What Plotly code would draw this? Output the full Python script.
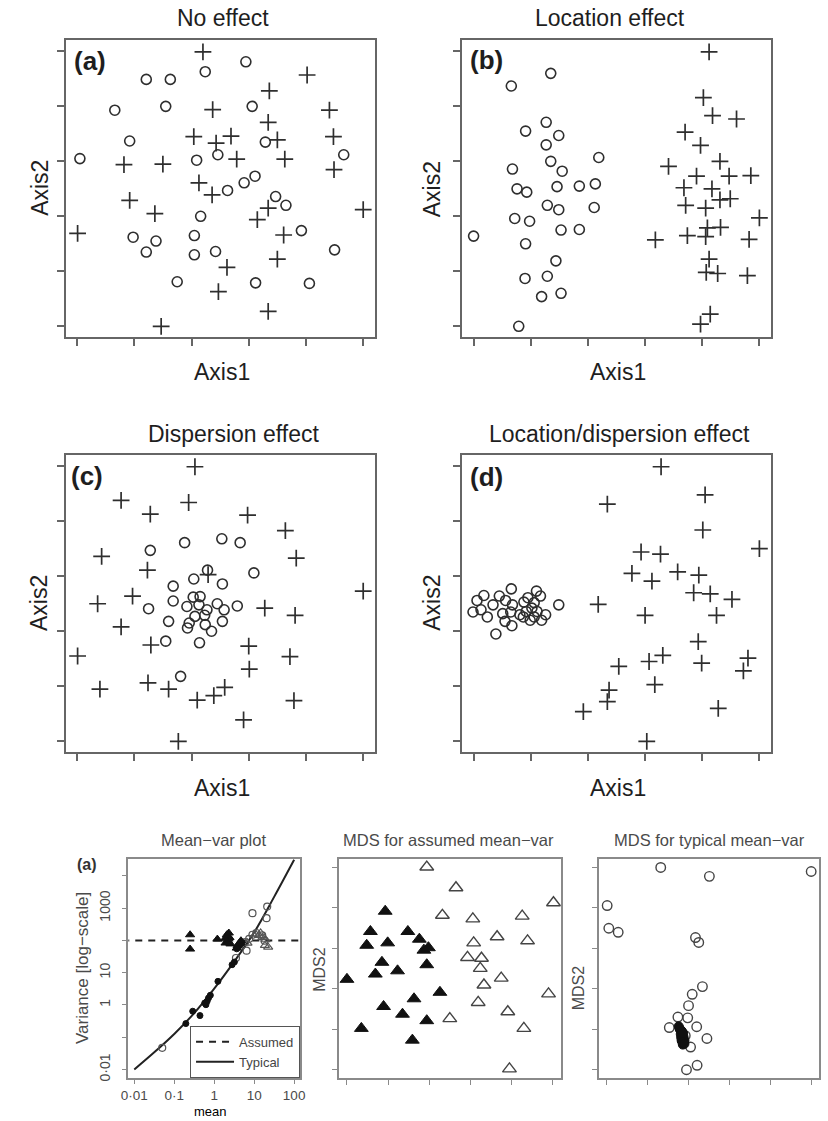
import plotly.graph_objects as go

W, H = 828, 1121

# ---------------- data (axis units; ticks at 0..5) ----------------
# Panel (a) No effect
a_circ_x = [2.95, 2.24, 1.21, 1.63, 0.66, 1.55, 3.06, 0.92, 0.05, 3.29, 2.09, 2.46, 4.66, 2.92, 3.11,
            2.63, 3.47, 3.65, 2.16, 0.98, 1.38, 2.05, 1.21, 2.05, 2.42, 3.92, 4.50, 1.75, 3.12, 4.06]
a_circ_y = [4.81, 4.63, 4.49, 4.49, 3.93, 4.00, 4.00, 3.37, 3.05, 3.35, 3.02, 3.12, 3.12, 2.61, 2.73,
            2.47, 2.36, 2.20, 2.00, 1.62, 1.55, 1.65, 1.35, 1.30, 1.36, 1.74, 1.39, 0.81, 0.79, 0.78]
a_cross_x = [2.20, 4.02, 3.36, 2.37, 4.41, 3.34, 2.04, 2.69, 2.43, 3.50, 4.48, 0.82, 1.50, 2.79, 3.63,
             4.49, 2.13, 2.36, 0.92, 1.36, 3.34, 3.15, 5.00, 0.01, 3.61, 3.50, 2.62, 2.47, 3.34, 1.47]
a_cross_y = [4.99, 4.57, 4.28, 3.94, 3.93, 3.71, 3.45, 3.46, 3.33, 3.39, 3.45, 2.94, 2.95, 3.04, 3.04,
             2.85, 2.61, 2.39, 2.29, 2.05, 2.15, 1.94, 2.12, 1.69, 1.66, 1.22, 1.07, 0.63, 0.27, 0.00]

# Panel (b) Location effect
b_circ_x = [1.35, 0.66, 1.27, 0.91, 1.49, 1.27, 2.19, 0.68, 1.35, 1.55, 0.76, 0.93, 1.46, 1.85, 2.13,
            1.29, 1.49, 2.11, 0.72, 0.98, 1.53, 1.85, 0.00, 0.91, 1.44, 0.90, 1.29, 1.19, 1.53, 0.79]
b_circ_y = [4.60, 4.37, 3.71, 3.55, 3.47, 3.30, 3.07, 2.86, 3.00, 2.82, 2.50, 2.44, 2.54, 2.55, 2.59,
            2.20, 2.12, 2.16, 1.96, 1.91, 1.75, 1.76, 1.64, 1.50, 1.19, 0.87, 0.91, 0.54, 0.60, 0.00]
b_cross_x = [4.12, 4.02, 4.18, 4.60, 3.70, 3.97, 4.31, 3.41, 3.90, 4.47, 4.85, 3.68, 4.17, 4.31, 4.49,
             3.71, 4.06, 5.00, 4.09, 4.32, 3.74, 4.06, 3.18, 4.82, 4.12, 4.07, 4.27, 4.79, 4.14, 3.97]
b_cross_y = [4.99, 4.16, 3.83, 3.77, 3.53, 3.29, 3.00, 2.91, 2.73, 2.73, 2.74, 2.52, 2.50, 2.30, 2.32,
             2.20, 2.15, 1.97, 1.79, 1.80, 1.65, 1.63, 1.57, 1.58, 1.22, 0.98, 0.96, 0.92, 0.22, 0.04]

# Panel (c) Dispersion effect
c_circ_x = [1.28, 1.88, 2.53, 2.85, 3.09, 2.28, 2.04, 1.68, 2.54, 1.68, 2.03, 2.15, 1.25, 1.92, 2.13,
            2.27, 2.45, 2.57, 2.80, 1.60, 1.96, 2.06, 2.23, 1.93, 2.24, 2.35, 2.54, 1.55, 2.14, 1.81]
c_circ_y = [3.47, 3.61, 3.68, 3.61, 3.06, 3.11, 2.95, 2.82, 2.86, 2.55, 2.62, 2.63, 2.41, 2.45, 2.48,
            2.39, 2.50, 2.39, 2.46, 2.18, 2.15, 2.27, 2.29, 2.06, 2.12, 2.00, 2.18, 1.82, 1.79, 1.18]
c_cross_x = [2.06, 0.77, 1.95, 1.28, 2.98, 3.64, 0.43, 3.83, 1.23, 2.29, 0.97, 5.00, 0.36, 3.28, 3.81,
             0.77, 1.29, 3.00, 0.01, 3.72, 3.01, 0.40, 1.24, 1.60, 2.58, 2.10, 2.39, 3.79, 2.91, 1.77]
c_cross_y = [4.99, 4.38, 4.34, 4.13, 4.11, 3.83, 3.36, 3.33, 3.11, 3.03, 2.64, 2.73, 2.50, 2.42, 2.29,
             2.08, 1.75, 1.73, 1.55, 1.54, 1.31, 0.95, 1.06, 0.95, 0.98, 0.75, 0.83, 0.74, 0.39, 0.00]

# Panel (d) Location/dispersion effect
d_circ_x = [-0.01, 0.06, 0.18, 0.24, 0.34, 0.39, 0.45, 0.51, 0.55, 0.56, 0.66, 0.68, 0.65, 0.67, 0.88,
            0.87, 0.92, 0.95, 0.99, 1.02, 1.06, 1.10, 1.11, 1.17, 1.19, 1.26, 1.49, 1.06, 0.81, 0.13]
d_circ_y = [2.35, 2.56, 2.65, 2.26, 2.48, 1.95, 2.64, 2.32, 2.18, 2.56, 2.77, 2.48, 2.35, 2.10, 2.53,
            2.26, 2.36, 2.61, 2.20, 2.42, 2.52, 2.73, 2.36, 2.64, 2.20, 2.30, 2.48, 2.26, 2.30, 2.39]
d_cross_x = [3.28, 2.34, 4.05, 4.01, 5.00, 2.93, 3.27, 2.77, 3.12, 3.57, 3.94, 3.85, 4.14, 4.52, 2.18,
             3.00, 4.25, 3.93, 3.31, 3.07, 3.99, 4.80, 4.72, 2.54, 2.37, 3.17, 2.34, 1.92, 4.28, 3.03]
d_cross_y = [4.99, 4.31, 4.48, 3.84, 3.50, 3.44, 3.40, 3.05, 2.91, 3.08, 3.02, 2.70, 2.68, 2.58, 2.49,
             2.29, 2.29, 1.81, 1.56, 1.45, 1.42, 1.51, 1.28, 1.36, 0.93, 1.03, 0.72, 0.54, 0.60, 0.00]

# Mean-var plot (mean, variance)
mv_ftri_mean = [0.249, 0.249, 1.2, 2.07, 2.41, 1.92, 2.19, 2.55, 2.32, 3.86, 4.25, 4.67, 3.66, 1.85]
mv_ftri_var = [150, 54, 110, 150, 123, 83, 93, 78, 170, 70, 83, 98, 58, 112]
mv_otri_mean = [10.9, 13.2, 16.0, 18.6, 22.4, 19.3, 14.5, 6.8]
mv_otri_var = [157, 143, 123, 70, 62, 105, 170, 83]
mv_fcirc_mean = [0.195, 0.29, 0.44, 0.62, 0.665, 0.72, 0.80, 0.58, 1.24, 2.8, 3.2, 3.66, 4.25, 4.9]
mv_fcirc_var = [0.265, 0.64, 0.47, 1.02, 1.3, 1.64, 2.0, 1.15, 5.4, 17.7, 21.4, 55, 68, 81]
mv_ocirc_mean = [0.05, 9.06, 21.2, 20.4, 6.45, 3.5, 9.06, 11.3, 15.9, 18.2, 5.97, 7.5]
mv_ocirc_var = [0.047, 700, 1120, 490, 48, 28.5, 150, 170, 143, 98, 89, 112]
assumed_mean = [0.005, 200]
assumed_var = [100, 100]
typical_mean = [0.01, 0.0316, 0.1, 0.316, 1, 3.16, 10, 31.6, 100]
typical_var = [0.01, 0.034, 0.126, 0.56, 3.2, 22, 178, 2240, 31600]

# MDS for assumed mean-var
as_fill_x = [0.00, 0.35, 0.57, 0.48, 0.99, 0.85, 0.69, 1.23, 0.93, 1.48, 1.76, 1.87, 1.98, 1.94, 1.63,
             0.89, 1.35, 1.94, 1.59, 2.26]
as_fill_y = [2.23, 1.02, 3.41, 3.07, 3.13, 2.65, 2.36, 2.44, 3.91, 3.41, 3.22, 2.95, 3.01, 2.59, 1.75,
             1.56, 1.37, 1.21, 0.73, 1.91]
as_open_x = [1.94, 2.65, 2.32, 3.06, 4.26, 5.02, 3.65, 4.39, 3.08, 2.93, 3.27, 3.24, 3.75, 3.33, 4.90,
             3.19, 3.91, 2.50, 4.30, 3.95]
as_open_y = [5.00, 4.49, 3.81, 3.72, 3.79, 4.12, 3.28, 3.18, 3.13, 2.77, 2.75, 2.50, 2.26, 2.09, 1.87,
             1.66, 1.43, 1.26, 1.02, 0.02]

# MDS for typical mean-var
ty_open_x = [1.32, 2.51, 5.00, 0.01, 0.05, 0.28, 2.17, 2.25, 2.34, 2.09, 2.00, 1.74, 1.98, 1.53, 2.20,
             2.45, 2.05, 2.21, 1.95, 1.92]
ty_open_y = [4.99, 4.77, 4.89, 4.05, 3.49, 3.39, 3.26, 3.14, 2.05, 1.86, 1.58, 1.30, 1.28, 1.04, 1.06,
             0.77, 0.56, 0.11, 0.00, 0.84]
ty_fill_x = [1.76, 1.78, 1.80, 1.83, 1.85, 1.82, 1.87, 1.84, 1.88, 1.86, 1.90, 1.79, 1.81, 1.85, 1.83,
             1.88, 1.86, 1.90, 1.84, 1.87]
ty_fill_y = [1.07, 1.02, 0.98, 0.92, 0.85, 0.80, 0.75, 0.70, 0.66, 0.62, 0.72, 1.00, 0.88, 0.78, 0.73,
             0.80, 0.68, 0.64, 0.95, 0.90]

# ---------------- helpers ----------------
def fx(px):
    return px / W

def fy(py):
    return 1 - py / H

FONT = "Liberation Sans, Arial, Helvetica, sans-serif"
DARK = "#1e1e1e"
GREY = "#4a4a4a"

fig = go.Figure()

# panel frames in pixels: (left, right, top, bottom)
frames = {
    1: (58.5, 372.5, 40.5, 338.5),
    2: (461.4, 775.0, 40.5, 338.5),
    3: (58.5, 372.5, 456.8, 755.0),
    4: (461.4, 775.0, 456.8, 755.0),
    5: (122.3, 296.7, 862.0, 1081.7),
    6: (336.0, 561.7, 862.0, 1081.7),
    7: (600.0, 824.3, 862.0, 1081.7),
}

def axname(i, k):
    return k if i == 1 else f"{k}{i}"

def add_scatter(i, x, y, symbol, size, color, lw=1.4, fill=None):
    fig.add_trace(go.Scatter(
        x=x, y=y, mode="markers", showlegend=False, hoverinfo="skip",
        xaxis=axname(i, "x"), yaxis=axname(i, "y"), cliponaxis=False,
        marker=dict(symbol=symbol, size=size, color=fill if fill else color,
                    line=dict(color=color, width=lw)),
    ))

MK = "#2e2e2e"
# top panels
for i, (cx, cy, px_, py_) in enumerate([
        (a_circ_x, a_circ_y, a_cross_x, a_cross_y),
        (b_circ_x, b_circ_y, b_cross_x, b_cross_y),
        (c_circ_x, c_circ_y, c_cross_x, c_cross_y),
        (d_circ_x, d_circ_y, d_cross_x, d_cross_y)], start=1):
    add_scatter(i, cx, cy, "circle-open", 10, MK, 1.6)
    add_scatter(i, px_, py_, "cross-thin-open", 12, MK, 1.7)

# mean-var plot
fig.add_trace(go.Scatter(x=assumed_mean, y=assumed_var, mode="lines", name="Assumed",
                         xaxis="x5", yaxis="y5", hoverinfo="skip",
                         line=dict(color="#222222", width=2, dash="7px,6px")))
fig.add_trace(go.Scatter(x=typical_mean, y=typical_var, mode="lines", name="Typical",
                         xaxis="x5", yaxis="y5", hoverinfo="skip", line_shape="spline",
                         line=dict(color="#222222", width=2)))
add_scatter(5, mv_ocirc_mean, mv_ocirc_var, "circle-open", 7, "#555555", 1.2)
add_scatter(5, mv_otri_mean, mv_otri_var, "triangle-up-open", 8, "#555555", 1.2)
add_scatter(5, mv_fcirc_mean, mv_fcirc_var, "circle", 6, "#111111", 1)
add_scatter(5, mv_ftri_mean, mv_ftri_var, "triangle-up", 8, "#111111", 1)

# MDS panels
add_scatter(6, as_fill_x, as_fill_y, "triangle-up", 12, "#111111", 1)
add_scatter(6, as_open_x, as_open_y, "triangle-up-open", 12, "#444444", 1.4)
add_scatter(7, ty_open_x, ty_open_y, "circle-open", 9.5, "#444444", 1.4)
add_scatter(7, ty_fill_x, ty_fill_y, "circle", 9, "#111111", 1)

# ---------------- axes ----------------
layout = {}
for i, (l, r, t, b) in frames.items():
    top = i <= 4
    lc = "#666666" if top else "#8a8a8a"
    lw = 2 if top else 1.5
    xa = dict(domain=[fx(l), fx(r)], anchor=axname(i, "y"), showgrid=False, zeroline=False,
              showline=True, mirror=True, linecolor=lc, linewidth=lw,
              ticks="outside", ticklen=7 if top else 5, tickwidth=1.5 if top else 1.2, tickcolor=lc)
    ya = dict(domain=[fy(b), fy(t)], anchor=axname(i, "x"), showgrid=False, zeroline=False,
              showline=True, mirror=True, linecolor=lc, linewidth=lw,
              ticks="outside", ticklen=7 if top else 5, tickwidth=1.5 if top else 1.2, tickcolor=lc)
    if i == 5:
        xa.update(type="log", range=[-2.148, 2.148],
                  tickvals=[0.01, 0.1, 1, 10, 100],
                  ticktext=["0·01", "0·1", "1", "10", "100"],
                  ticklen=4, ticklabelstandoff=0,
                  tickfont=dict(family=FONT, size=13.5, color=GREY))
        ya.update(type="log", range=[-2.258, 4.526],
                  tickvals=[0.01, 0.1, 1, 10, 100, 1000, 10000],
                  ticktext=["0·01", "", "1", "10", "", "1000", ""],
                  tickangle=-90, ticklabelstandoff=6,
                  tickfont=dict(family=FONT, size=14, color=GREY))
    else:
        xa.update(range=[-0.2, 5.2], tickvals=[0, 1, 2, 3, 4, 5], showticklabels=False)
        ya.update(range=[-0.2, 5.2], tickvals=[0, 1, 2, 3, 4, 5], showticklabels=False)
    layout[axname(i, "xaxis")] = xa
    layout[axname(i, "yaxis")] = ya

# ---------------- text ----------------
ann = []

def text(s, x, y, size, color=DARK, bold=False, angle=0, pad=1):
    ann.append(dict(text=f"<b>{s}</b>" if bold else s, x=fx(x), y=fy(y), xref="paper", yref="paper",
                    xanchor="center", yanchor="middle", showarrow=False, textangle=angle,
                    borderpad=pad, font=dict(family=FONT, size=size, color=color)))

titles = [("No effect", 218.5, 18.3), ("Location effect", 611.8, 18.3),
          ("Dispersion effect", 228.8, 435.7), ("Location/dispersion effect", 621.0, 435.8)]
for s, x, y in titles:
    text(s, x, y, 23)
for s, x, y in [("(a)", 82.8, 60.8), ("(b)", 486.2, 60.3), ("(c)", 80.0, 477.5), ("(d)", 486.0, 478.3)]:
    text(s, x, y, 26, bold=True)
for x, y in [(217.5, 373.0), (620.0, 373.0), (217.5, 791.0), (620.0, 791.0)]:
    text("Axis1", x, y, 23)
for x, y in [(31.7, 188.3), (430.7, 190.0), (31.7, 605.0), (430.7, 605.0)]:
    text("Axis2", x, y, 23, angle=-90)

text("Mean−var plot", 209.0, 843.3, 16.5, GREY)
text("MDS for assumed mean−var", 447.8, 843.0, 16.5, GREY)
text("MDS for typical mean−var", 712.5, 843.0, 16.5, GREY)
text("(a)", 80.0, 867.7, 16, "#333333", bold=True)
text("Variance [log−scale]", 75.0, 971.7, 17, GREY, angle=-90)
text("MDS2", 315.8, 972.5, 16, GREY, angle=-90)
text("MDS2", 579.2, 991.7, 16, GREY, angle=-90)
text("mean", 206.0, 1115.5, 13, "#000000", pad=0)

fig.update_layout(
    width=W, height=H, margin=dict(l=0, r=0, t=0, b=0),
    paper_bgcolor="white", plot_bgcolor="white",
    annotations=ann,
    showlegend=True,
    legend=dict(x=fx(296.7), xanchor="right", y=fy(1081.7), yanchor="bottom",
                bordercolor="#555555", borderwidth=1, bgcolor="white",
                font=dict(family=FONT, size=13, color="#444444"),
                itemwidth=38, tracegroupgap=0),
    **layout,
)

fig.write_html("out.html")
